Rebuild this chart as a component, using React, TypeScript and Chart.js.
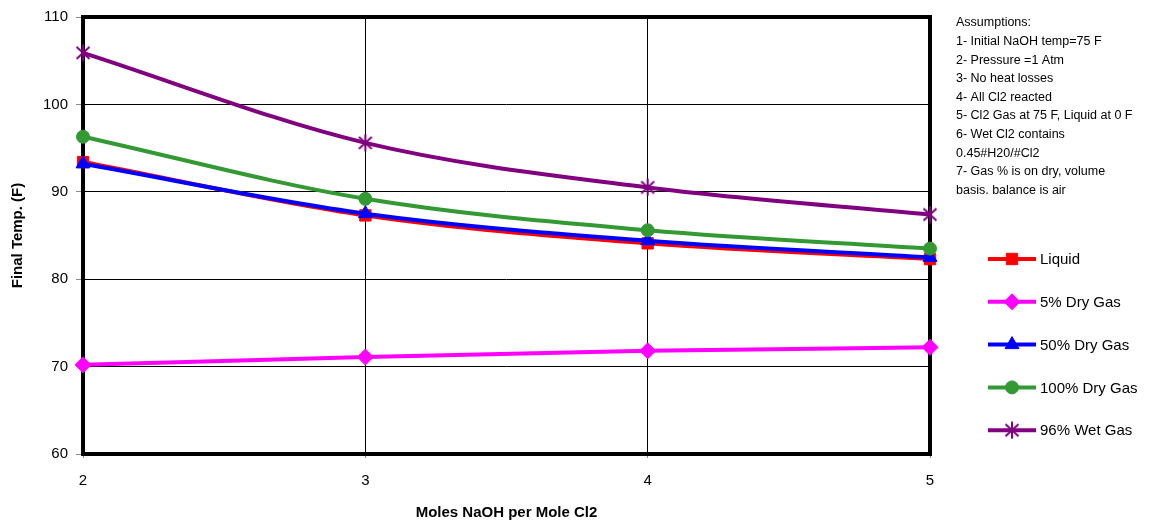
import React, { useEffect, useRef } from "react";
import { Chart, registerables } from "chart.js";
import { drawPoint } from "chart.js/helpers";

Chart.register(...registerables);

const molesNaOH = [2, 3, 4, 5];
const liquid = [93.4, 87.3, 84.1, 82.3];
const dryGas5 = [70.2, 71.1, 71.8, 72.2];
const dryGas50 = [93.2, 87.5, 84.4, 82.5];
const dryGas100 = [96.3, 89.2, 85.6, 83.5];
const wetGas96 = [105.9, 95.6, 90.5, 87.4];

const seriesNames = ["Liquid", "5% Dry Gas", "50% Dry Gas", "100% Dry Gas", "96% Wet Gas"];
const seriesValues = [liquid, dryGas5, dryGas50, dryGas100, wetGas96];
const seriesColors = ["#FF0000", "#FF00FF", "#0000FF", "#339933", "#800080"];

const assumptions = [
  "Assumptions:",
  "1- Initial NaOH temp=75 F",
  "2- Pressure =1 Atm",
  "3- No heat losses",
  "4- All Cl2 reacted",
  "5- Cl2 Gas at 75 F, Liquid at 0 F",
  "6- Wet Cl2 contains",
  "0.45#H20/#Cl2",
  "7- Gas % is on dry, volume",
  "basis. balance is air",
];

const FONT = "Arial, 'Liberation Sans', Helvetica, sans-serif";

function makeStar(color: string): HTMLCanvasElement {
  const c = document.createElement("canvas");
  c.width = 18;
  c.height = 18;
  const g = c.getContext("2d")!;
  g.strokeStyle = color;
  g.lineWidth = 2;
  g.beginPath();
  g.moveTo(2.5, 3);
  g.lineTo(15.5, 15);
  g.moveTo(15.5, 3);
  g.lineTo(2.5, 15);
  g.moveTo(9, 0.5);
  g.lineTo(9, 17.5);
  g.stroke();
  return c;
}

export default function App() {
  const ref = useRef<HTMLCanvasElement>(null);
  useEffect(() => {
    const star = makeStar(seriesColors[4]);
    const styles: any[] = ["rect", "rectRot", "triangle", "circle", star];
    const radii = [8, 8, 8, 6.5, 9];

    const framePlugin = {
      id: "frame",
      beforeDatasetsDraw(chart: any) {
        const { ctx, chartArea } = chart;
        ctx.save();
        ctx.strokeStyle = "#000";
        ctx.lineWidth = 4;
        ctx.strokeRect(chartArea.left, chartArea.top, chartArea.right - chartArea.left, chartArea.bottom - chartArea.top);
        ctx.restore();
      },
      afterDraw(chart: any) {
        const { ctx } = chart;
        ctx.save();
        ctx.fillStyle = "#000";
        ctx.font = `12.5px ${FONT}`;
        ctx.textBaseline = "middle";
        ctx.textAlign = "left";
        assumptions.forEach((t, i) => ctx.fillText(t, 956, 23 + i * 18.6));
        seriesNames.forEach((name, i) => {
          const y = 259 + i * 42.8;
          ctx.strokeStyle = seriesColors[i];
          ctx.lineWidth = 4;
          ctx.beginPath();
          ctx.moveTo(988, y);
          ctx.lineTo(1036, y);
          ctx.stroke();
          ctx.fillStyle = seriesColors[i];
          ctx.strokeStyle = seriesColors[i];
          ctx.lineWidth = 1;
          drawPoint(ctx, { pointStyle: styles[i], radius: radii[i], rotation: 0, borderWidth: 1 } as any, 1012, y);
          ctx.fillStyle = "#000";
          ctx.font = `15px ${FONT}`;
          ctx.fillText(name, 1040, y + 1);
        });
        ctx.restore();
      },
    };

    const chart = new Chart(ref.current!, {
      type: "line",
      data: {
        datasets: seriesNames.map((name, i) => ({
          label: name,
          data: molesNaOH.map((x, j) => ({ x, y: seriesValues[i][j] })),
          borderColor: seriesColors[i],
          backgroundColor: seriesColors[i],
          borderWidth: 4,
          pointStyle: styles[i],
          pointRadius: radii[i],
          pointBorderWidth: 1,
          cubicInterpolationMode: "monotone" as const,
          fill: false,
          clip: false as any,
          order: 5 - i,
        })),
      },
      options: {
        animation: false,
        responsive: false,
        events: [],
        layout: { padding: { left: 4, right: 238, top: 8, bottom: 1 } },
        plugins: { legend: { display: false }, tooltip: { enabled: false } },
        scales: {
          x: {
            type: "linear",
            min: 2,
            max: 5,
            ticks: { stepSize: 1, color: "#000", font: { family: FONT, size: 15 }, padding: 14 },
            grid: { color: "#000", lineWidth: 1, tickLength: 4, tickColor: "#888" },
            border: { display: false },
            title: {
              display: true,
              text: "Moles NaOH per Mole Cl2",
              color: "#000",
              font: { family: FONT, size: 15, weight: "bold" },
              padding: { top: 0, bottom: 2 },
            },
          },
          y: {
            min: 60,
            max: 110,
            ticks: { stepSize: 10, color: "#000", font: { family: FONT, size: 15 }, padding: 8 },
            grid: { color: "#000", lineWidth: 1, tickLength: 7, tickColor: "#888" },
            border: { display: false },
            title: {
              display: true,
              text: "Final Temp. (F)",
              color: "#000",
              font: { family: FONT, size: 15, weight: "bold" },
              padding: { top: 5, bottom: 8 },
            },
          },
        },
      },
      plugins: [framePlugin],
    });
    return () => chart.destroy();
  }, []);

  return (
    <div style={{ position: "fixed", left: 0, top: 0, width: 1168, height: 525, background: "#fff" }}>
      <canvas ref={ref} width={1168} height={525} style={{ width: 1168, height: 525, display: "block" }} />
    </div>
  );
}
